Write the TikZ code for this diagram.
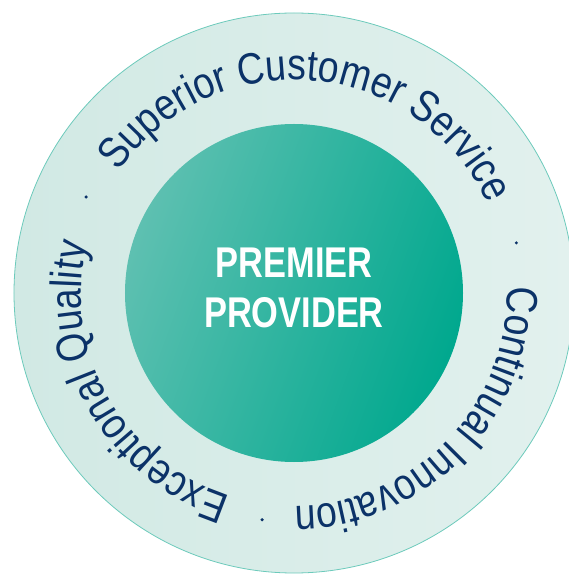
\documentclass[tikz,border=0pt]{standalone}
\usepackage{fontspec}
\setmainfont{Liberation Sans}
\newfontfamily\ringfont[FakeStretch=0.85]{Liberation Sans}
\newfontfamily\corefont[FakeStretch=0.8]{Liberation Sans}
\usetikzlibrary{decorations.text}

\definecolor{ringline}{HTML}{6CCABB}
\definecolor{ringleft}{HTML}{D1E9E4}
\definecolor{ringright}{HTML}{E2F1EE}
\definecolor{ringtext}{HTML}{0B3268}
\definecolor{corelight}{HTML}{5EC0B1}
\definecolor{coremid}{HTML}{1DB098}
\definecolor{coredark}{HTML}{00A88E}

\newcommand{\ringtype}{\ringfont\fontsize{44}{48}\selectfont\color{ringtext}}

\begin{document}
\begin{tikzpicture}[
        ring/.style={
            circle,
            draw=ringline,
            line width=0.8pt,
            inner sep=0pt,
            minimum size=560pt,
            left color=ringleft,
            right color=ringright,
        },
        core/.style={
            circle,
            inner sep=0pt,
            minimum size=338pt,
            shading=axis,
            top color=corelight,
            middle color=coremid,
            bottom color=coredark,
            shading angle=70,
        },
        title/.style={
            align=center,
            text=white,
            font=\corefont\bfseries\fontsize{43}{50}\selectfont,
        },
        motto/.style={
            decorate,
            decoration={text along path, text align=center, text={|\ringtype|#1}},
        },
        spot/.style={
            ringtext,
        },
    ]

    \useasboundingbox (-294pt,-282pt) rectangle (274pt,293pt);

    \node (R) at (0,0) [ring] {};
    \node (P) at (0,0) [core] {};
    \node (T) at (0,5.5pt) [title] {PREMIER\\PROVIDER};

    % texts round the ring, clockwise
    \path [motto={Superior Customer Service}] (155:213pt) arc[start angle=155, end angle=15, radius=213pt];
    \path [motto={Continual Innovation}] (26:213pt) arc[start angle=26, end angle=-114, radius=213pt];
    \path [motto={Exceptional Quality}] (279.5:213pt) arc[start angle=279.5, end angle=139.5, radius=213pt];

    \fill [spot] (155.2:229pt) circle[radius=1.7pt];
    \fill [spot] (12.7:228pt) circle[radius=1.7pt];
    \fill [spot] (262:229pt) circle[radius=1.7pt];

\end{tikzpicture}
\end{document}
